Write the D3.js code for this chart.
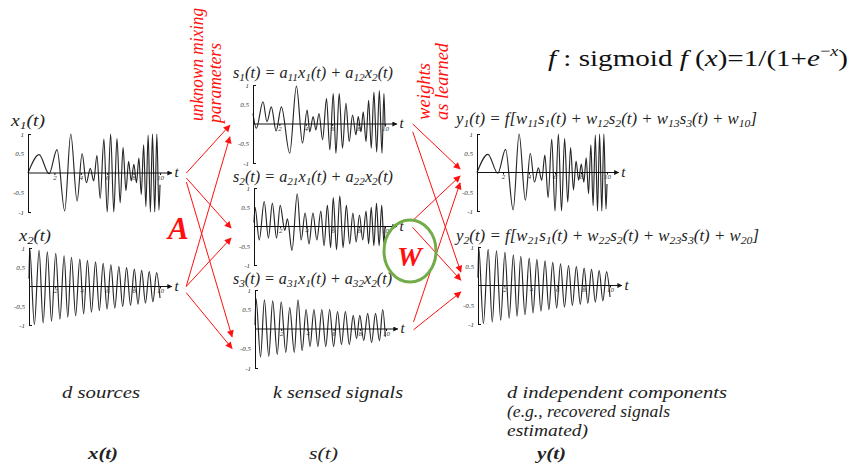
<!DOCTYPE html>
<html lang="en">
<head>
  <meta charset="UTF-8">
  <title>ICA - sources, sensed signals, recovered components</title>
  <style>
    body { margin: 0; background: #fff; }
    svg { display: block; font-family: "Liberation Serif", "Times New Roman", Times, "DejaVu Serif", "Noto Serif", serif; }
    text { font-family: "Liberation Serif", "Times New Roman", Times, "DejaVu Serif", "Noto Serif", serif; }
    .sig { fill: none; stroke: #262626; stroke-width: 1.15; }
    .ax path, .ax line { stroke: #111; stroke-width: 1; }
    .ax text { font-style: italic; font-size: 7px; fill: #333; font-family: "Liberation Serif", "DejaVu Serif", serif; }
    .red { fill: #ff1010; font-style: italic; }
  </style>
</head>
<body>
  <svg width="852" height="466" font-family="Liberation Serif, DejaVu Serif, serif"></svg>

  <script src="https://d3js.org/d3.v7.min.js"></script>
  <script>
    // extrema [t, value]
    const x1Peaks = [[0,0],[0.84,0.47],[1.6,-0.02],[2.2,0.6],[2.78,-0.97],[3.24,1.0],[3.72,-0.72],[4.1,0.5],[4.42,-0.25],[4.72,0.12],[4.98,-0.2],[5.22,0.45],[5.47,-0.65],[5.75,0.87],[6.0,-1.0],[6.26,1.0],[6.5,-1.0],[6.74,0.88],[6.98,-0.77],[7.2,0.65],[7.42,-0.45],[7.62,0.3],[7.82,-0.2],[8.02,0.22],[8.22,-0.25],[8.4,0.38],[8.58,-0.55],[8.76,0.72],[8.93,-0.86],[9.1,0.97],[9.27,-1.0],[9.43,1.0],[9.6,-1.0],[9.76,1.0],[9.92,-0.95],[10,-0.3]];
    const x2Peaks = [[0,0.2],[0.05,1.0],[0.41,-0.99],[0.77,0.94],[1.08,-0.95],[1.4,0.9],[1.72,-0.9],[2.04,0.86],[2.36,-0.85],[2.68,0.8],[2.96,-0.8],[3.24,0.76],[3.56,-0.76],[3.88,0.71],[4.17,-0.71],[4.46,0.68],[4.77,-0.67],[5.08,0.64],[5.37,-0.63],[5.66,0.6],[5.96,-0.59],[6.25,0.56],[6.55,-0.56],[6.86,0.52],[7.15,-0.52],[7.45,0.49],[7.75,-0.49],[8.04,0.45],[8.32,-0.46],[8.6,0.42],[8.89,-0.43],[9.18,0.39],[9.46,-0.4],[9.74,0.36],[10,-0.3]];
    const s1Peaks = [[0,0.27],[0.25,-0.11],[0.76,0.57],[1.06,0.06],[1.39,0.44],[1.75,-0.18],[2.15,0.44],[2.78,-0.75],[3.29,0.97],[3.75,-0.49],[4.1,0.36],[4.3,-0.2],[4.56,0.19],[4.76,-0.15],[5.0,0.27],[5.27,-0.4],[5.57,0.65],[5.82,-0.66],[6.08,0.78],[6.28,-0.75],[6.53,0.78],[6.78,-0.62],[7.04,0.53],[7.29,-0.45],[7.54,0.23],[7.8,-0.28],[7.97,0.19],[8.18,-0.2],[8.35,0.31],[8.56,-0.45],[8.76,0.61],[8.96,-0.62],[9.16,0.82],[9.37,-0.72],[9.57,0.86],[9.77,-0.75],[9.92,0.78],[10,-0.07]];
    const s2Peaks = [[0,0.1],[0.08,0.5],[0.4,-0.35],[0.78,0.65],[1.1,-0.3],[1.4,0.6],[1.72,-0.3],[2.0,0.55],[2.35,-0.1],[2.55,0.2],[2.9,-0.62],[3.3,0.85],[3.6,-0.35],[3.9,0.35],[4.2,-0.45],[4.5,0.35],[4.8,-0.35],[5.1,0.4],[5.35,-0.5],[5.6,0.55],[5.85,-0.55],[6.05,0.75],[6.3,-0.6],[6.55,0.8],[6.8,-0.55],[7.05,0.55],[7.3,-0.45],[7.55,0.35],[7.8,-0.4],[8.05,0.3],[8.3,-0.35],[8.55,0.4],[8.75,-0.45],[8.95,0.5],[9.15,-0.5],[9.35,0.6],[9.55,-0.5],[9.75,0.55],[9.92,-0.45],[10,0]];
    const s3Peaks = [[0,0.1],[0.08,0.78],[0.42,-0.72],[0.72,0.75],[1.05,-0.7],[1.35,0.72],[1.7,-0.65],[2.0,0.7],[2.35,-0.6],[2.65,0.55],[3.0,-0.6],[3.28,0.75],[3.6,-0.55],[3.9,0.5],[4.2,-0.45],[4.5,0.5],[4.8,-0.45],[5.1,0.5],[5.4,-0.45],[5.7,0.5],[6.0,-0.45],[6.3,0.45],[6.6,-0.4],[6.9,0.45],[7.2,-0.4],[7.5,0.35],[7.75,-0.25],[8.0,0.35],[8.3,-0.3],[8.6,0.4],[8.9,-0.35],[9.2,0.4],[9.5,-0.3],[9.75,0.5],[9.95,-0.2]];
    // recovered components look the same as the sources
    const y1Peaks = x1Peaks;
    const y2Peaks = x2Peaks;

    const tTicks = [2, 4, 6, 8, 10];
    const vTicks = [-1, -0.5, 0.5, 1];
    const tickLabels = ["-1", "-0.5", "0.5", "1"];

    const svg = d3.select("svg");

    const defs = svg.append("defs");
    defs.append("marker").attr("id", "redhead")
      .attr("viewBox", "0 0 10 10").attr("refX", 9).attr("refY", 5)
      .attr("markerWidth", 9).attr("markerHeight", 7).attr("markerUnits", "userSpaceOnUse")
      .attr("orient", "auto")
      .append("path").attr("d", "M0,0L10,5L0,10z").attr("fill", "#ff1010");
    defs.append("marker").attr("id", "axhead")
      .attr("viewBox", "0 0 10 10").attr("refX", 9).attr("refY", 5)
      .attr("markerWidth", 8).attr("markerHeight", 5).attr("markerUnits", "userSpaceOnUse")
      .attr("orient", "auto")
      .append("path").attr("d", "M0,0L10,5L0,10z").attr("fill", "#111");

    const panels = {
      x1: { data: x1Peaks, l: 28, r: 160, top: 134, bot: 212 },
      x2: { data: x2Peaks, l: 29, r: 160, top: 248, bot: 325 },
      s1: { data: s1Peaks, l: 253, r: 385, top: 85, bot: 163 },
      s2: { data: s2Peaks, l: 254, r: 385, top: 188, bot: 265 },
      s3: { data: s3Peaks, l: 255, r: 386, top: 290, bot: 368 },
      y1: { data: y1Peaks, l: 477, r: 607, top: 134, bot: 211 },
      y2: { data: y2Peaks, l: 478, r: 610, top: 247, bot: 324 }
    };

    Object.values(panels).forEach(p => {
      p.x = d3.scaleLinear().domain([0, 10]).range([p.l, p.r]);
      p.y = d3.scaleLinear().domain([-1, 1]).range([p.bot, p.top]);
      const g = svg.append("g");

      const line = d3.line()
        .x(d => p.x(d[0]))
        .y(d => p.y(d[1]))
        .curve(d3.curveMonotoneX);
      g.append("path").attr("class", "sig").attr("d", line(p.data));

      // y axis with labels on the left and bracket ticks at +-1
      g.append("g").attr("class", "ax")
        .attr("transform", `translate(${p.x(0)},0)`)
        .call(d3.axisLeft(p.y).tickValues(vTicks).tickSize(0).tickPadding(4)
          .tickFormat((d, i) => tickLabels[i]));
      g.append("g").attr("class", "ax")
        .attr("transform", `translate(${p.x(0)},0)`)
        .call(d3.axisRight(p.y).tickValues([-1, 1]).tickSize(3).tickSizeOuter(0).tickFormat(""))
        .select(".domain").remove();

      // t axis
      const xa = g.append("g").attr("class", "ax")
        .attr("transform", `translate(0,${p.y(0)})`)
        .call(d3.axisBottom(p.x).tickValues(tTicks).tickSize(2).tickPadding(0).tickSizeOuter(0));
      xa.select(".domain").remove();
      xa.selectAll("text").attr("font-size", 6);
      g.append("line")
        .attr("x1", p.x(0)).attr("x2", p.x(10.9))
        .attr("y1", p.y(0)).attr("y2", p.y(0))
        .attr("stroke", "#111").attr("marker-end", "url(#axhead)");
      g.append("text")
        .attr("x", p.x(11.1)).attr("y", p.y(0) + 4)
        .attr("font-style", "italic").attr("font-size", 15).attr("fill", "#222")
        .text("t");
    });

    // titles with subscripts, stretched to the width seen in the picture
    function rich(x, y, parts, size, width) {
      const t = svg.append("text").attr("x", x).attr("y", y)
        .attr("font-size", size).attr("font-style", "italic").attr("fill", "#222");
      let shifted = false;
      parts.forEach(s => {
        const isSub = s.startsWith("_");
        const ts = t.append("tspan").text(isSub ? s.slice(1) : s);
        if (isSub) ts.attr("font-size", size * 0.7);
        if (isSub && !shifted) { ts.attr("dy", 3); shifted = true; }
        else if (!isSub && shifted) { ts.attr("dy", -3); shifted = false; }
      });
      if (width) t.attr("textLength", width).attr("lengthAdjust", "spacingAndGlyphs");
      return t;
    }

    rich(11, 126, ["x", "_1", "(t)"], 16, 34);
    rich(19, 241, ["x", "_2", "(t)"], 16, 32);
    rich(233, 78, ["s", "_1", "(t) = a", "_11", "x", "_1", "(t) + a", "_12", "x", "_2", "(t)"], 16, 160);
    rich(233, 182, ["s", "_2", "(t) = a", "_21", "x", "_1", "(t) + a", "_22", "x", "_2", "(t)"], 16, 160);
    rich(233, 284, ["s", "_3", "(t) = a", "_31", "x", "_1", "(t) + a", "_32", "x", "_2", "(t)"], 16, 159);
    rich(456, 124, ["y", "_1", "(t) = f[w", "_11", "s", "_1", "(t) + w", "_12", "s", "_2", "(t) + w", "_13", "s", "_3", "(t) + w", "_10", "]"], 16, 301);
    rich(456, 241, ["y", "_2", "(t) = f[w", "_21", "s", "_1", "(t) + w", "_22", "s", "_2", "(t) + w", "_23", "s", "_3", "(t) + w", "_20", "]"], 16, 303);

    // mixing (A) and unmixing (W) arrows, placed in panel coordinates
    const mixArrows = [
      ["x1", 0, "s1", -0.03], ["x1", -0.13, "s2", -0.04], ["x1", -0.23, "s3", -0.2],
      ["x2", 0, "s1", -0.33], ["x2", 0, "s2", -0.3], ["x2", -0.16, "s3", -0.5]
    ];
    const unmixArrows = [
      ["s1", 0, "y1", 0.09], ["s1", -0.2, "y2", 0.35],
      ["s2", 0.15, "y1", -0.09], ["s2", -0.02, "y2", 0.14],
      ["s3", 0.18, "y1", -0.27], ["s3", -0.02, "y2", -0.17]
    ];
    function arrows(list, t0, t1) {
      list.forEach(([a, va, b, vb]) => {
        const pa = panels[a], pb = panels[b];
        svg.append("line")
          .attr("x1", pa.x(t0)).attr("y1", pa.y(va))
          .attr("x2", pb.x(t1)).attr("y2", pb.y(vb))
          .attr("stroke", "#ff1010").attr("stroke-width", 1)
          .attr("marker-end", "url(#redhead)");
      });
    }
    arrows(mixArrows, 12.0, -1.75);
    arrows(unmixArrows, 12.1, -1.3);

    svg.append("text").attr("class", "red").attr("x", 168).attr("y", 239)
      .attr("font-size", 31).attr("font-weight", "bold").text("A");
    svg.append("ellipse").attr("cx", 410).attr("cy", 251).attr("rx", 26).attr("ry", 31)
      .attr("fill", "none").attr("stroke", "#72ac48").attr("stroke-width", 3);
    svg.append("text").attr("class", "red").attr("x", 397).attr("y", 266)
      .attr("font-size", 28).attr("font-weight", "bold").text("W");

    // rotated red notes
    [["unknown mixing", 203, 121, 113], ["parameters", 221, 123, 80], ["weights", 430, 120, 57], ["as learned", 448, 120, 77]]
      .forEach(([s, x, y, w]) => {
        svg.append("text").attr("class", "red")
          .attr("transform", `translate(${x},${y}) rotate(-90)`)
          .attr("font-size", 19).attr("textLength", w).attr("lengthAdjust", "spacingAndGlyphs")
          .text(s);
      });

    // sigmoid
    const sg = svg.append("text").attr("x", 548).attr("y", 66).attr("font-size", 24).attr("fill", "#111")
      .attr("textLength", 300).attr("lengthAdjust", "spacingAndGlyphs");
    sg.append("tspan").attr("font-style", "italic").text("f");
    sg.append("tspan").text(" :  sigmoid  ");
    sg.append("tspan").attr("font-style", "italic").text("f");
    sg.append("tspan").text(" (");
    sg.append("tspan").attr("font-style", "italic").text("x");
    sg.append("tspan").text(")=1/(1+");
    sg.append("tspan").attr("font-style", "italic").text("e");
    sg.append("tspan").attr("dy", -10).attr("font-size", 15).text("−");
    sg.append("tspan").attr("font-size", 15).attr("font-style", "italic").text("x");
    sg.append("tspan").attr("dy", 10).text(")");

    // captions
    const captions = [
      ["d sources", 62, 398, "normal", 78],
      ["k sensed signals", 273, 398, "normal", 130],
      ["d independent components", 507, 398, "normal", 220],
      ["(e.g., recovered signals", 507, 417, "normal", 163],
      ["estimated)", 507, 436, "normal", 81],
      ["x(t)", 88, 459, "bold", 30],
      ["s(t)", 309, 459, "normal", 29],
      ["y(t)", 537, 459, "bold", 29]
    ];
    captions.forEach(([s, x, y, w, len]) => {
      svg.append("text").attr("x", x).attr("y", y)
        .attr("font-size", 16).attr("font-style", "italic").attr("font-weight", w)
        .attr("fill", "#222").attr("textLength", len).attr("lengthAdjust", "spacingAndGlyphs")
        .text(s);
    });
  </script>
</body>
</html>
